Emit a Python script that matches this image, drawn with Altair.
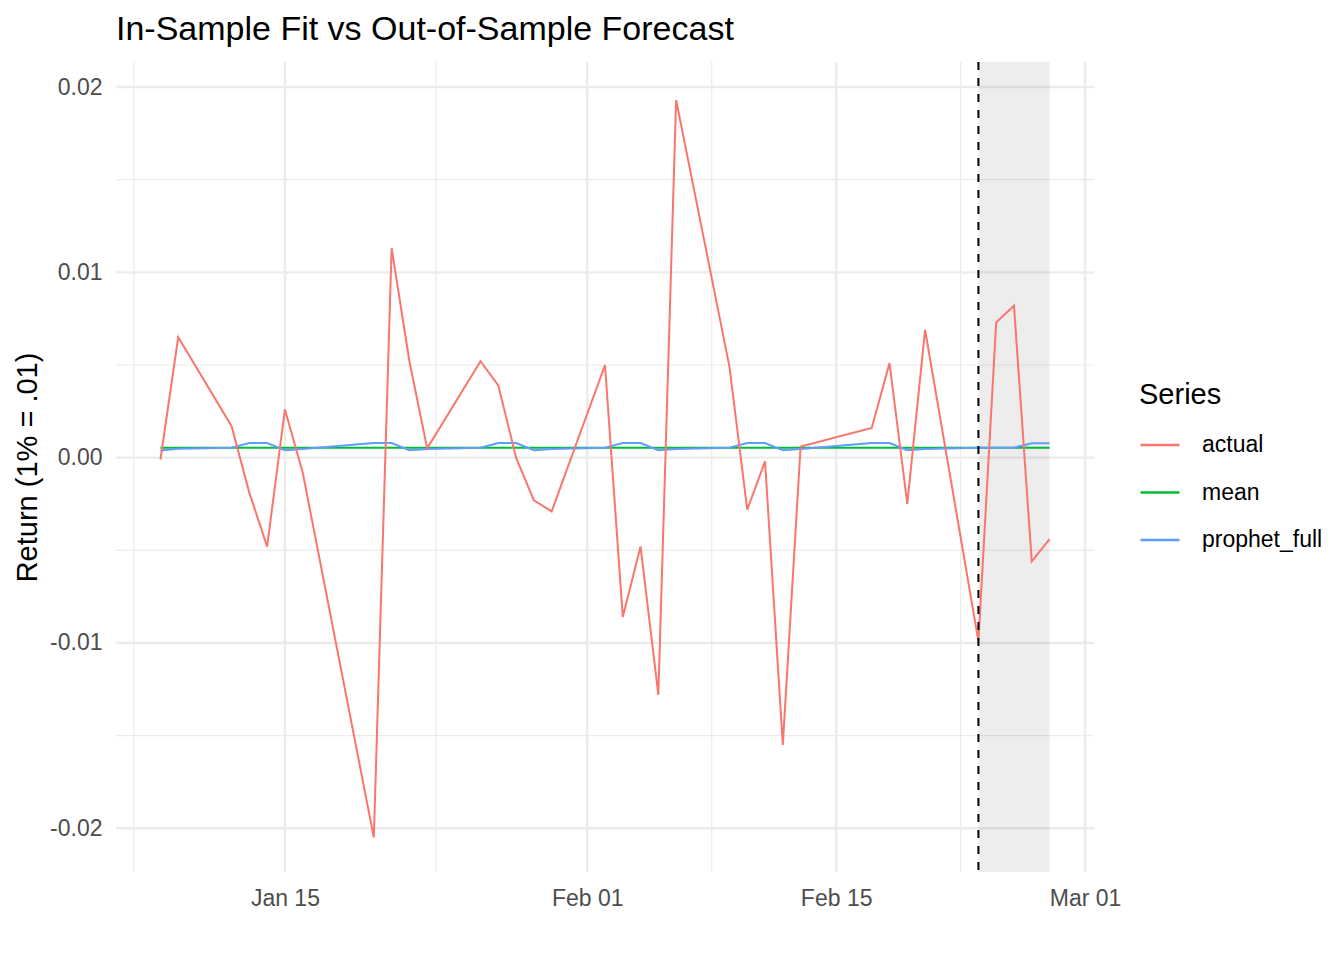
import altair as alt
import pandas as pd

# trading days shown in the chart (2015)
dates = [
    "2015-01-08", "2015-01-09", "2015-01-12", "2015-01-13", "2015-01-14",
    "2015-01-15", "2015-01-16", "2015-01-20", "2015-01-21", "2015-01-22",
    "2015-01-23", "2015-01-26", "2015-01-27", "2015-01-28", "2015-01-29",
    "2015-01-30", "2015-02-02", "2015-02-03", "2015-02-04", "2015-02-05",
    "2015-02-06", "2015-02-09", "2015-02-10", "2015-02-11", "2015-02-12",
    "2015-02-13", "2015-02-17", "2015-02-18", "2015-02-19", "2015-02-20",
    "2015-02-23", "2015-02-24", "2015-02-25", "2015-02-26", "2015-02-27",
]
actual = [
    -0.0001, 0.0065, 0.0017, -0.0019, -0.0048,
    0.0026, -0.0008, -0.0205, 0.0113, 0.0052,
    0.0005, 0.0052, 0.0039, 0.0000, -0.0023,
    -0.0029, 0.0050, -0.0086, -0.0048, -0.0128,
    0.0193, 0.0049, -0.0028, -0.0002, -0.0155,
    0.0006, 0.0016, 0.0051, -0.0025, 0.0069,
    -0.0099, 0.0073, 0.0082, -0.0056, -0.0044,
]
mean = [
    0.00054, 0.00054, 0.00054, 0.00054, 0.00054,
    0.00054, 0.00054, 0.00054, 0.00054, 0.00054,
    0.00054, 0.00054, 0.00054, 0.00054, 0.00054,
    0.00054, 0.00054, 0.00054, 0.00054, 0.00054,
    0.00054, 0.00054, 0.00054, 0.00054, 0.00054,
    0.00054, 0.00054, 0.00054, 0.00054, 0.00054,
    0.00054, 0.00054, 0.00054, 0.00054, 0.00054,
]
prophet_full = [
    0.00039, 0.00048, 0.00054, 0.00079, 0.00079,
    0.00040, 0.00046, 0.00079, 0.00079, 0.00040,
    0.00046, 0.00054, 0.00079, 0.00079, 0.00040,
    0.00046, 0.00054, 0.00079, 0.00079, 0.00040,
    0.00046, 0.00054, 0.00079, 0.00079, 0.00040,
    0.00046, 0.00079, 0.00079, 0.00040, 0.00046,
    0.00054, 0.00054, 0.00054, 0.00078, 0.00078,
]
series_names = ["actual", "mean", "prophet_full"]
series_colors = ["#F8766D", "#00BA38", "#619CFF"]

forecast_start = "2015-02-23"
forecast_end = "2015-02-27"

major_y = [-0.02, -0.01, 0.0, 0.01, 0.02]
minor_y = [-0.015, -0.005, 0.005, 0.015]
major_x = ["2015-01-15", "2015-02-01", "2015-02-15", "2015-03-01"]
minor_x = ["2015-01-06T12:00:00Z", "2015-01-23T12:00:00Z",
           "2015-02-08T00:00:00Z", "2015-02-22T00:00:00Z"]

FONT = "Liberation Sans"

df = pd.DataFrame({
    "date": dates * 3,
    "value": actual + mean + prophet_full,
    "series": ["actual"] * len(dates) + ["mean"] * len(dates) + ["prophet_full"] * len(dates),
})


def utc_day(s):
    t = pd.Timestamp(s)
    return alt.DateTime(year=t.year, month=t.month, date=t.day, hours=t.hour, utc=True)


x_enc = alt.X(
    "date:T",
    scale=alt.Scale(type="utc", domain=[utc_day("2015-01-05T12:00"), utc_day("2015-03-01T12:00")]),
    axis=alt.Axis(
        values=[utc_day(d) for d in major_x], format="%b %d", title=None,
        grid=False, ticks=False, domain=False,
        labelFontSize=23, labelColor="#4D4D4D", labelPadding=15, labelFont=FONT,
    ),
)
y_enc = alt.Y(
    "value:Q",
    scale=alt.Scale(domain=[-0.02236, 0.02135], nice=False, zero=False),
    axis=alt.Axis(
        values=major_y, title="Return (1% = .01)",
        labelExpr="(datum.value < 0 ? '-' : '') + format(abs(datum.value), '.2f')",
        grid=False, ticks=False, domain=False,
        labelFontSize=23, labelColor="#4D4D4D", labelPadding=14, labelFont=FONT,
        titleFontSize=29, titleFontWeight="normal", titleColor="black", titleFont=FONT,
        titleAngle=270, titleBaseline="alphabetic", titleAlign="center",
        titleX=-80, titleY=405,
    ),
)
color_enc = alt.Color(
    "series:N",
    scale=alt.Scale(domain=series_names, range=series_colors),
    legend=alt.Legend(
        title="Series", orient="none", legendX=1023, legendY=319, padding=0,
        titleFontSize=29, titleFontWeight="normal", titleColor="black", titleFont=FONT,
        titlePadding=14,
        labelFontSize=23, labelColor="black", labelFont=FONT, labelOffset=21,
        symbolType="stroke", symbolSize=1521, symbolStrokeWidth=2.5, rowPadding=14.5,
    ),
)

grid_minor_v = alt.Chart(pd.DataFrame({"date": minor_x})).mark_rule(
    color="#EBEBEB", strokeWidth=1.2).encode(x=x_enc)
grid_minor_h = alt.Chart(pd.DataFrame({"value": minor_y})).mark_rule(
    color="#EBEBEB", strokeWidth=1.2).encode(y=y_enc)
grid_major_v = alt.Chart(pd.DataFrame({"date": major_x})).mark_rule(
    color="#EBEBEB", strokeWidth=2.4).encode(x=x_enc)
grid_major_h = alt.Chart(pd.DataFrame({"value": major_y})).mark_rule(
    color="#EBEBEB", strokeWidth=2.4).encode(y=y_enc)

shade = alt.Chart(pd.DataFrame({"date": [forecast_start], "end": [forecast_end]})).mark_rect(
    color="#808080", opacity=0.14).encode(x=x_enc, x2="end:T")

fit_lines = alt.Chart(df).transform_filter(alt.datum.series != "actual").mark_line(
    strokeWidth=2).encode(x=x_enc, y=y_enc, color=color_enc)
actual_line = alt.Chart(df).transform_filter(alt.datum.series == "actual").mark_line(
    strokeWidth=2).encode(x=x_enc, y=y_enc, color=color_enc)

cutoff = alt.Chart(pd.DataFrame({"date": [forecast_start]})).mark_rule(
    color="black", strokeWidth=2, strokeDash=[8, 8]).encode(x=x_enc)

chart = alt.layer(
    grid_minor_v, grid_minor_h, grid_major_v, grid_major_h,
    shade, fit_lines, actual_line, cutoff,
).properties(
    width=978, height=810,
    autosize=alt.AutoSizeParams(type="none"),
    padding={"left": 108, "top": 54, "right": 242, "bottom": 80},
    title=alt.TitleParams(
        "In-Sample Fit vs Out-of-Sample Forecast", anchor="start", frame="group",
        fontSize=34, fontWeight="normal", color="black", font=FONT, offset=14,
    ),
).configure(
    font=FONT, background="white", view=alt.ViewConfig(strokeWidth=0),
)

chart.save("out.html", embed_options={"renderer": "svg", "actions": False})
